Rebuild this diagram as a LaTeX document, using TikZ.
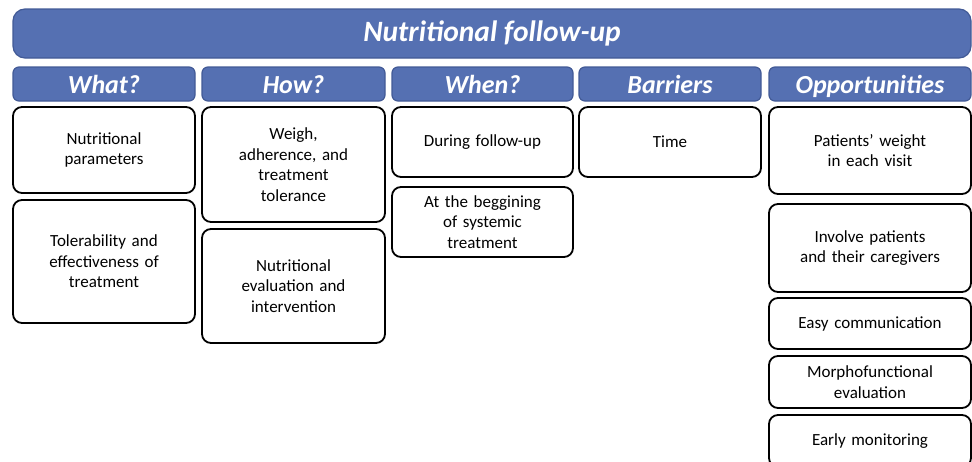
\documentclass[tikz,border=0pt]{standalone}
\usepackage{fontspec}
\setmainfont{Carlito}
\usetikzlibrary{positioning}
\definecolor{barFill}{RGB}{85,112,178}
\definecolor{barDraw}{RGB}{66,90,150}

\begin{document}
\begin{tikzpicture}[
  x=1pt,y=-1pt,
  every node/.style={outer sep=0pt},
  every bar/.style={
    draw=barDraw,
    line width=1.2pt,
    fill=barFill,
    text=white,
    inner sep=0pt,
    anchor=north west,
  },
  title bar/.style={
    every bar/.try,
    rounded corners=12pt,
    minimum width=958pt,
    minimum height=49pt,
    font=\fontsize{29.5}{34}\selectfont\bfseries\itshape,
  },
  col head/.style={
    every bar/.try,
    rounded corners=6pt,
    minimum height=34pt,
    text height=19pt,
    text depth=1pt,
    font=\fontsize{26}{30}\selectfont\bfseries\itshape,
  },
  item/.style={
    draw=black,
    line width=1.8pt,
    rounded corners=9pt,
    fill=white,
    inner sep=0pt,
    align=center,
    font=\fontsize{17}{20.5}\selectfont,
  }
]
\useasboundingbox (0,0) rectangle (972,461);
\node[title bar] (title) at (13,9) {Nutritional follow-up};
\foreach \x/\w/\t/\n in {13/182/What?/what,202/183/How?/how,392/181/When?/when,
    579/182/Barriers/barr,769/202/Opportunities/opp}
{
  \node[col head,minimum width=\w pt] (\n) at (\x,67) {\t};
}
% What?
\node[item,text width=182pt,minimum height=86pt,below=6pt of what] (what1)
  {Nutritional\\parameters};
\node[item,text width=182pt,minimum height=123pt,below=7pt of what1] (what2)
  {Tolerability and\\effectiveness of\\treatment};
% How?
\node[item,text width=183pt,minimum height=115pt,below=6pt of how] (how1)
  {Weigh,\\adherence, and\\treatment\\tolerance};
\node[item,text width=183pt,minimum height=114pt,below=7pt of how1] (how2)
  {Nutritional\\evaluation and\\intervention};
% When?
\node[item,text width=181pt,minimum height=70pt,below=6pt of when] (when1)
  {During follow-up};
\node[item,text width=181pt,minimum height=70pt,below=10pt of when1] (when2)
  {At the beggining\\of systemic\\treatment};
% Barriers
\node[item,text width=182pt,minimum height=70pt,below=6pt of barr] (barr1)
  {Time};
% Opportunities
\node[item,text width=202pt,minimum height=87pt,below=6pt of opp] (opp1)
  {Patients’ weight\\in each visit};
\node[item,text width=202pt,minimum height=88pt,below=10pt of opp1] (opp2)
  {Involve patients\\and their caregivers};
\node[item,text width=202pt,minimum height=51pt,below=6pt of opp2] (opp3)
  {Easy communication};
\node[item,text width=202pt,minimum height=52pt,below=7pt of opp3] (opp4)
  {Morphofunctional\\evaluation};
\node[item,text width=202pt,minimum height=52pt,below=7pt of opp4] (opp5)
  {Early monitoring};
\end{tikzpicture}
\end{document}
